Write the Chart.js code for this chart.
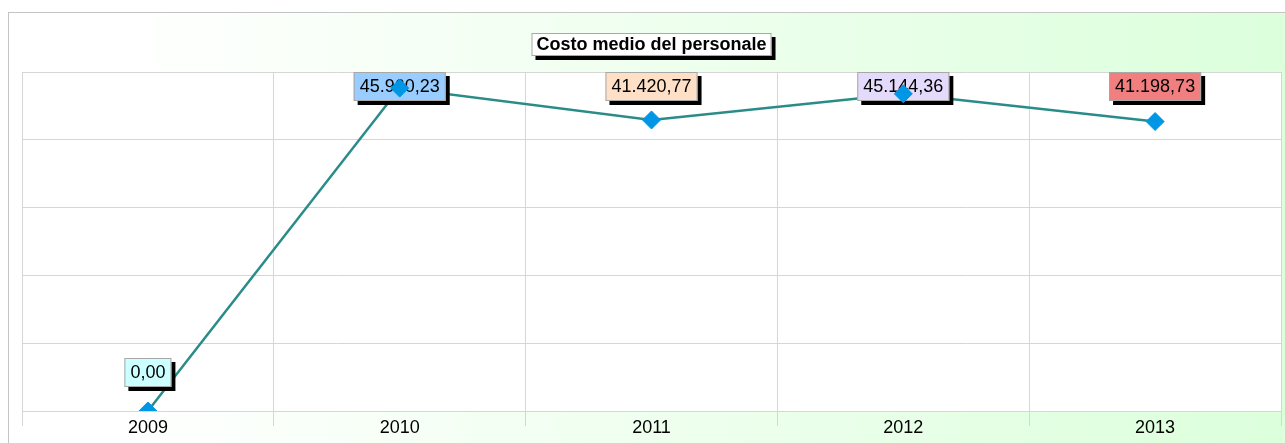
<!DOCTYPE html>
<html>
<head>
<meta charset="utf-8">
<title>Costo medio del personale</title>
<script src="https://cdn.jsdelivr.net/npm/chart.js@4.4.0/dist/chart.umd.min.js"></script>
<style>
  html, body { margin: 0; padding: 0; background: #fff; }
  canvas { display: block; }
</style>
</head>
<body>
<canvas id="graph1" width="1285" height="443"></canvas>
<script>
// dati del grafico
var anni = ['2009', '2010', '2011', '2012', '2013']
var costoMedio = [0, 45960.23, 41420.77, 45144.36, 41198.73]
var coloriEtichette = ['#ccffff', '#99ccff', '#ffdfc6', '#e4dafc', '#f27f7f']
var titolo = 'Costo medio del personale'
var scalaMax = 48250
var scalaPasso = 9650

var FONT = '"Liberation Sans", Arial, Helvetica, sans-serif'

// formato italiano: 45.960,23
function formatta(v) {
    var parti = v.toFixed(2).split('.')
    parti[0] = parti[0].replace(/\B(?=(\d{3})+(?!\d))/g, '.')
    return parti[0] + ',' + parti[1]
}

function riquadro(ctx, x, y, w, h, colore) {
    ctx.fillStyle = '#000'
    ctx.fillRect(x + 4, y + 4, w, h)
    ctx.fillStyle = colore
    ctx.fillRect(x, y, w, h)
    ctx.strokeStyle = '#a8a8a8'
    ctx.lineWidth = 1
    ctx.strokeRect(x + 0.5, y + 0.5, w - 1, h - 1)
}

/* sfondo sfumato, cornice e titolo */
var sfondo = {
    id: 'sfondo',
    beforeDraw: function (chart) {
        var ctx = chart.ctx
        var a = chart.chartArea
        ctx.save()
        var g = ctx.createLinearGradient(115, 0, chart.width, 0)
        g.addColorStop(0, '#ffffff')
        g.addColorStop(1, '#dcffdc')
        ctx.fillStyle = g
        ctx.fillRect(8, 12, chart.width, chart.height)
        ctx.strokeStyle = '#c4c4c4'
        ctx.lineWidth = 1
        ctx.strokeRect(8.5, 12.5, chart.width + 10, chart.height + 10)
        ctx.fillStyle = '#ffffff'
        ctx.fillRect(a.left, a.top, a.right - a.left, a.bottom - a.top)

        ctx.font = 'bold 18px ' + FONT
        var w = ctx.measureText(titolo).width + 10
        var cx = (a.left + a.right) / 2
        riquadro(ctx, cx - w / 2, 33, w, 23, '#ffffff')
        ctx.fillStyle = '#000'
        ctx.textAlign = 'center'
        ctx.textBaseline = 'middle'
        ctx.fillText(titolo, cx, 45)
        ctx.restore()
    }
}

/* etichette dei valori, sopra la linea ma sotto i marcatori */
var etichette = {
    id: 'etichette',
    afterDatasetDraw: function (chart, args) {
        if (args.index !== 1) return
        var ctx = chart.ctx
        var a = chart.chartArea
        var punti = chart.getDatasetMeta(0).data
        ctx.save()
        ctx.font = '18px ' + FONT
        ctx.textAlign = 'center'
        ctx.textBaseline = 'middle'
        punti.forEach(function (p, i) {
            var testo = formatta(costoMedio[i])
            var w = ctx.measureText(testo).width + 12
            var h = 29
            var y = Math.max(a.top, p.y - 24 - h)
            riquadro(ctx, p.x - w / 2, y, w, h, coloriEtichette[i])
            ctx.fillStyle = '#000'
            ctx.fillText(testo, p.x, y + h / 2 + 1)
        })
        ctx.restore()
    }
}

var ctx = document.getElementById('graph1').getContext('2d')
var graph1 = new Chart(ctx, {
    type: 'line',
    data: {
        labels: anni,
        datasets: [
            {
                label: 'punti',
                data: costoMedio,
                showLine: false,
                pointStyle: 'rectRot',
                pointRadius: 9,
                pointBackgroundColor: '#0096e6',
                pointBorderColor: '#0096e6',
                order: 1
            },
            {
                label: titolo,
                data: costoMedio,
                borderColor: '#2a8c88',
                borderWidth: 2.5,
                pointRadius: 0,
                tension: 0,
                order: 2
            }
        ]
    },
    options: {
        responsive: false,
        animation: false,
        devicePixelRatio: 1,
        layout: { autoPadding: false, padding: { top: 72, left: 22, right: 4, bottom: 0 } },
        plugins: { legend: { display: false }, tooltip: { enabled: false }, title: { display: false } },
        scales: {
            x: {
                offset: true,
                grid: { offset: true, color: '#d6d6d6', tickLength: 15 },
                border: { color: '#d6d6d6' },
                ticks: { color: '#000', padding: -9, font: { family: FONT, size: 18 } },
                afterFit: function (scale) { scale.height = 32 }
            },
            y: {
                min: 0,
                max: scalaMax,
                grid: { color: '#d6d6d6', drawTicks: false },
                border: { color: '#d6d6d6' },
                ticks: { display: false, stepSize: scalaPasso }
            }
        }
    },
    plugins: [sfondo, etichette]
})
</script>
</body>
</html>
